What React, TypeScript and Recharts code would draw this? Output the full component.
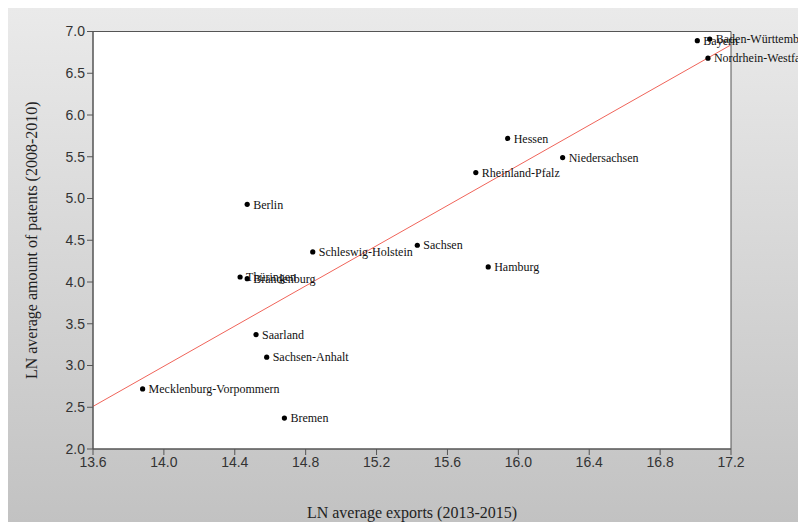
import React from 'react';
import {
  ComposedChart,
  Scatter,
  XAxis,
  YAxis,
  ReferenceArea,
  ReferenceLine,
  LabelList,
} from 'recharts';

const states = [
  'Bayern',
  'Baden-Württemberg',
  'Nordrhein-Westfalen',
  'Hessen',
  'Niedersachsen',
  'Rheinland-Pfalz',
  'Berlin',
  'Schleswig-Holstein',
  'Sachsen',
  'Hamburg',
  'Thüringen',
  'Brandenburg',
  'Saarland',
  'Sachsen-Anhalt',
  'Mecklenburg-Vorpommern',
  'Bremen',
];
const exportsLn = [17.01, 17.08, 17.07, 15.94, 16.25, 15.76, 14.47, 14.84, 15.43, 15.83, 14.43, 14.47, 14.52, 14.58, 13.88, 14.68];
const patentsLn = [6.89, 6.91, 6.68, 5.72, 5.49, 5.31, 4.93, 4.36, 4.44, 4.18, 4.06, 4.04, 3.37, 3.1, 2.72, 2.37];

const xTicks = [13.6, 14.0, 14.4, 14.8, 15.2, 15.6, 16.0, 16.4, 16.8, 17.2];
const yTicks = [2.0, 2.5, 3.0, 3.5, 4.0, 4.5, 5.0, 5.5, 6.0, 6.5, 7.0];
const xDomain = [13.6, 17.2];
const yDomain = [2.0, 7.0];
const fitLineX = [13.6, 17.2];
const fitLineY = [2.51, 6.84];

const points = states.map((name, i) => ({ name, x: exportsLn[i], y: patentsLn[i] }));

const Dot = (props: any) => {
  const { cx, cy } = props;
  return <circle cx={cx} cy={cy} r={2.6} fill="#000" />;
};

const PointLabel = (props: any) => {
  const { x, y, width, height, value } = props;
  const cx = x + (width || 0) / 2;
  const cy = y + (height || 0) / 2;
  return (
    <text
      x={cx + 6}
      y={cy}
      dy="0.35em"
      fontFamily="'Liberation Serif', serif"
      fontSize={12}
      fill="#111"
    >
      {value}
    </text>
  );
};

const XTitle = (props: any) => {
  const { viewBox } = props;
  const cx = viewBox.x + viewBox.width / 2;
  return (
    <text
      x={cx}
      y={viewBox.y + viewBox.height + 33}
      dy="0.35em"
      textAnchor="middle"
      fontFamily="'Liberation Serif', serif"
      fontSize={16}
      fill="#222"
    >
      LN average exports (2013-2015)
    </text>
  );
};

const YTitle = (props: any) => {
  const { viewBox } = props;
  const x = 23;
  const y = viewBox.y + viewBox.height / 2;
  return (
    <text
      x={x}
      y={y}
      dy="0.35em"
      textAnchor="middle"
      transform={`rotate(-90 ${x} ${y})`}
      fontFamily="'Liberation Serif', serif"
      fontSize={16}
      fill="#222"
    >
      LN average amount of patents (2008-2010)
    </text>
  );
};

const tickStyle = {
  fontFamily: "'Liberation Sans', Arial, sans-serif",
  fontSize: 14,
  fill: '#333',
};

export default function App() {
  return (
    <div
      style={{
        width: 798,
        height: 514,
        background: 'linear-gradient(#eaeaea, #c2c2c2)',
      }}
    >
      <ComposedChart
        width={798}
        height={514}
        margin={{ top: 23.5, right: 75, left: 45, bottom: 43 }}
      >
        <XAxis
          dataKey="x"
          type="number"
          domain={xDomain}
          ticks={xTicks}
          tickFormatter={(v: number) => v.toFixed(1)}
          tick={tickStyle}
          tickLine={{ stroke: '#555' }}
          axisLine={{ stroke: '#555' }}
          tickSize={6}
          tickMargin={2}
          height={30}
          allowDataOverflow
          label={<XTitle />}
        />
        <YAxis
          dataKey="y"
          type="number"
          domain={yDomain}
          ticks={yTicks}
          tickFormatter={(v: number) => v.toFixed(1)}
          tick={tickStyle}
          tickLine={{ stroke: '#555' }}
          axisLine={{ stroke: '#555' }}
          tickSize={6}
          tickMargin={2}
          width={40}
          allowDataOverflow
          label={<YTitle />}
        />
        <ReferenceArea
          x1={xDomain[0]}
          x2={xDomain[1]}
          y1={yDomain[0]}
          y2={yDomain[1]}
          fill="#ffffff"
          fillOpacity={1}
          stroke="#555"
          strokeWidth={1}
        />
        <ReferenceLine
          segment={[
            { x: fitLineX[0], y: fitLineY[0] },
            { x: fitLineX[1], y: fitLineY[1] },
          ]}
          stroke="#f0645a"
          strokeWidth={1}
        />
        <Scatter data={points} shape={<Dot />} isAnimationActive={false}>
          <LabelList dataKey="name" content={<PointLabel />} />
        </Scatter>
      </ComposedChart>
    </div>
  );
}
